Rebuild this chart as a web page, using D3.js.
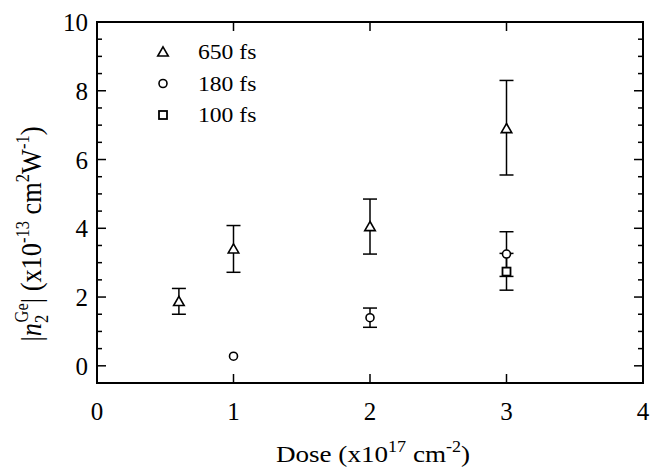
<!DOCTYPE html>
<html>
<head>
<script src="https://d3js.org/d3.v7.min.js"></script>
<style>
  body { margin: 0; background: #fff; }
  svg text { font-family: "Liberation Serif", "DejaVu Serif", serif; fill: #000; }
</style>
</head>
<body>
<svg id="chart" width="650" height="470"></svg>
<script>
// data
const dose650 = [0.6, 1, 2, 3];
const val650  = [1.87, 3.4, 4.05, 6.9];
const lo650   = [1.5, 2.72, 3.25, 5.55];
const hi650   = [2.25, 4.08, 4.85, 8.3];

const dose180 = [1, 2, 3];
const val180  = [0.28, 1.4, 3.25];
const lo180   = [null, 1.12, 2.6];
const hi180   = [null, 1.68, 3.9];

const dose100 = [3];
const val100  = [2.74];
const lo100   = [2.2];
const hi100   = [3.27];

const xTicks = [0, 1, 2, 3, 4];
const yTicks = [0, 2, 4, 6, 8, 10];
const legendLabels = ["650 fs", "180 fs", "100 fs"];

const svg = d3.select('#chart');
const mL = 97, mR = 643, mT = 22, mB = 383;

const x = d3.scaleLinear().domain([0, 4]).range([mL, mR]);
const y = d3.scaleLinear().domain([-0.5, 10]).range([mB, mT]);

// frame
svg.append('rect').attr('x', mL).attr('y', mT)
  .attr('width', mR - mL).attr('height', mB - mT)
  .attr('fill', 'none').attr('stroke', '#000').attr('stroke-width', 2);

// inward ticks
const yMinor = d3.range(0, 10.01, 0.5);
const tk = svg.append('g').attr('stroke', '#000').attr('stroke-width', 1.5);
yMinor.forEach(v => {
  const len = (v % 2 === 0) ? 9 : 5;
  tk.append('line').attr('x1', mL).attr('x2', mL + len).attr('y1', y(v)).attr('y2', y(v));
  tk.append('line').attr('x1', mR).attr('x2', mR - len).attr('y1', y(v)).attr('y2', y(v));
});
xTicks.slice(1, -1).forEach(v => {
  tk.append('line').attr('x1', x(v)).attr('x2', x(v)).attr('y1', mB).attr('y2', mB - 9);
  tk.append('line').attr('x1', x(v)).attr('x2', x(v)).attr('y1', mT).attr('y2', mT + 9);
});

// tick labels
svg.append('g').selectAll('text').data(xTicks).join('text')
  .attr('x', d => x(d)).attr('y', 420)
  .attr('text-anchor', 'middle').attr('font-size', 25)
  .text(d => d);
svg.append('g').selectAll('text').data(yTicks).join('text')
  .attr('x', 88).attr('y', d => y(d) + 9)
  .attr('text-anchor', 'end').attr('font-size', 25)
  .text(d => d);

// axis titles
const xt = svg.append('text')
  .attr('transform', 'translate(373,462) scale(1.13,1)')
  .attr('text-anchor', 'middle').attr('font-size', 24);
xt.append('tspan').text('Dose (x10');
xt.append('tspan').attr('dy', -10).attr('font-size', 16).text('17');
xt.append('tspan').attr('dy', 10).text(' cm');
xt.append('tspan').attr('dy', -10).attr('font-size', 16).text('-2');
xt.append('tspan').attr('dy', 10).text(')');

const yt = svg.append('text')
  .attr('transform', 'translate(41,234) rotate(-90) scale(1.1,1.22)')
  .attr('text-anchor', 'middle').attr('font-size', 24);
yt.append('tspan').text('|');
yt.append('tspan').attr('font-style', 'italic').text('n');
yt.append('tspan').attr('dy', 6).attr('font-size', 15).text('2');
yt.append('tspan').attr('dy', -17).attr('dx', -7).attr('font-size', 15).text('Ge');
yt.append('tspan').attr('dy', 11).text('| (x10');
yt.append('tspan').attr('dy', -10).attr('font-size', 15).text('-13');
yt.append('tspan').attr('dy', 10).text(' cm');
yt.append('tspan').attr('dy', -10).attr('font-size', 15).text('2');
yt.append('tspan').attr('dy', 10).text('W');
yt.append('tspan').attr('dy', -10).attr('font-size', 15).text('-1');
yt.append('tspan').attr('dy', 10).text(')');

// error bars
function errorBars(xs, los, his) {
  const g = svg.append('g').attr('stroke', '#000').attr('stroke-width', 1.5);
  xs.forEach((d, i) => {
    if (los[i] == null) return;
    g.append('line').attr('x1', x(d)).attr('x2', x(d)).attr('y1', y(los[i])).attr('y2', y(his[i]));
    [los[i], his[i]].forEach(v => {
      g.append('line').attr('x1', x(d) - 7).attr('x2', x(d) + 7).attr('y1', y(v)).attr('y2', y(v));
    });
  });
}
errorBars(dose650, lo650, hi650);
errorBars(dose180, lo180, hi180);
errorBars(dose100, lo100, hi100);

const triSym = d3.symbol().type(d3.symbolTriangle).size(48);
function markers(xs, vs, kind) {
  const g = svg.append('g');
  xs.forEach((d, i) => drawMarker(g, x(d), y(vs[i]), kind));
}
function drawMarker(g, cx, cy, kind) {
  if (kind === 'tri') {
    g.append('path').attr('d', triSym()).attr('transform', `translate(${cx},${cy + 1})`)
      .attr('fill', '#fff').attr('stroke', '#000').attr('stroke-width', 1.6);
  } else if (kind === 'circ') {
    g.append('circle').attr('cx', cx).attr('cy', cy).attr('r', 4)
      .attr('fill', '#fff').attr('stroke', '#000').attr('stroke-width', 1.6);
  } else {
    g.append('rect').attr('x', cx - 4).attr('y', cy - 4).attr('width', 8).attr('height', 8)
      .attr('fill', '#fff').attr('stroke', '#000').attr('stroke-width', 1.8);
  }
}
markers(dose650, val650, 'tri');
markers(dose180, val180, 'circ');
markers(dose100, val100, 'sq');

// legend
const kinds = ['tri', 'circ', 'sq'];
const lg = svg.append('g');
legendLabels.forEach((t, i) => {
  const ly = 52 + i * 31.5;
  drawMarker(lg, 163, ly, kinds[i]);
  lg.append('text').attr('transform', `translate(198,${ly + 7}) scale(1.18,1)`)
    .attr('font-size', 20).text(t);
});
</script>
</body>
</html>
